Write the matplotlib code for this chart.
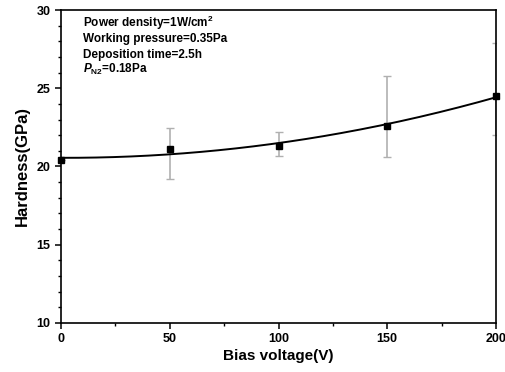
import numpy as np
import matplotlib
matplotlib.use("Agg")
import matplotlib.pyplot as plt
from matplotlib.ticker import MultipleLocator

plt.rcParams['font.family'] = ['Liberation Sans', 'DejaVu Sans']
plt.rcParams['font.weight'] = 'bold'
plt.rcParams['mathtext.fontset'] = 'custom'
plt.rcParams['mathtext.rm'] = 'Liberation Sans:bold'
plt.rcParams['mathtext.it'] = 'Liberation Sans:bold:italic'
plt.rcParams['mathtext.bf'] = 'Liberation Sans:bold'

# datos
bias = np.array([0, 50, 100, 150, 200])
hardness = np.array([20.42, 21.1, 21.33, 22.61, 24.5])
err_low = np.array([0.0, 1.9, 0.65, 2.0, 2.5])
err_high = np.array([0.0, 1.35, 0.85, 3.2, 3.4])

# curva de ajuste (polinomio de 2do grado sobre los datos)
coef = np.polyfit(bias, hardness, 2)
xs = np.linspace(0, 200, 200)
ys = np.polyval(coef, xs)

fig = plt.figure(figsize=(5.05, 3.72), dpi=100)
ax = fig.add_axes([0.121, 0.132, 0.861, 0.841])

ax.errorbar(bias, hardness, yerr=[err_low, err_high], fmt='none',
            ecolor='#b0b0b0', elinewidth=1.2, capsize=3, capthick=1.0, zorder=2)
ax.plot(xs, ys, color='black', lw=1.4, zorder=3)
ax.plot(bias, hardness, 's', color='black', ms=5, zorder=4, clip_on=False)

ax.set_xlim(0, 200)
ax.set_ylim(10, 30)
ax.xaxis.set_major_locator(MultipleLocator(50))
ax.xaxis.set_minor_locator(MultipleLocator(25))
ax.yaxis.set_major_locator(MultipleLocator(5))
ax.yaxis.set_minor_locator(MultipleLocator(1))
ax.tick_params(which='major', direction='out', length=4, width=1.1, labelsize=9)
ax.tick_params(which='minor', direction='out', length=2.5, width=1.0)
for s in ax.spines.values():
    s.set_linewidth(1.2)

ax.set_xlabel("Bias voltage(V)", fontsize=11, fontweight='bold', labelpad=3)
ax.set_ylabel("Hardness(GPa)", fontsize=12, fontweight='bold', labelpad=5)

textos = [r"Power density=1W/cm$^{2}$",
          "Working pressure=0.35Pa",
          "Deposition time=2.5h",
          r"$P_{\mathrm{N2}}$=0.18Pa"]
for i, t in enumerate(textos):
    ax.text(0.05, 0.947 - i * 0.0495, t, transform=ax.transAxes,
            fontsize=8.5, fontweight='bold', va='baseline', ha='left')

fig.savefig("out.png", dpi=100)
